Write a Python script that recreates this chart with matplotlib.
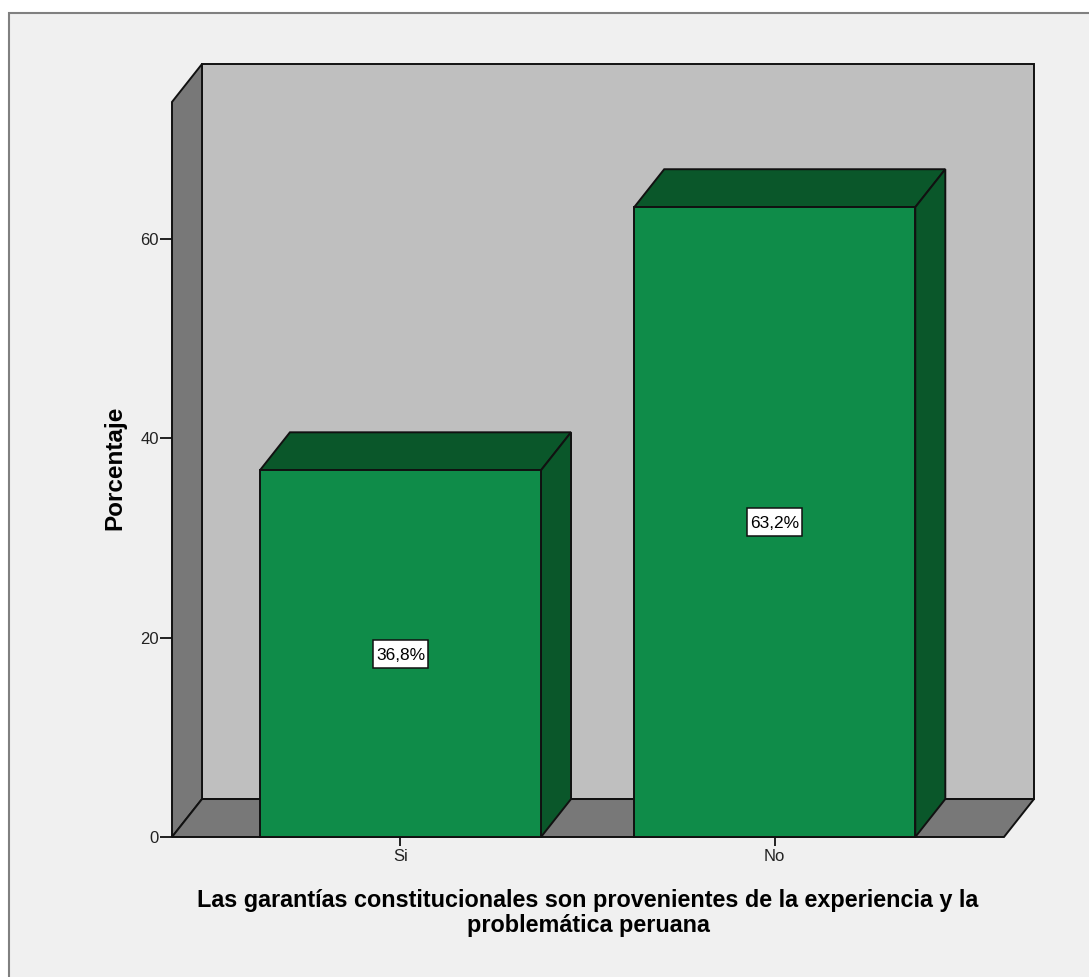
import matplotlib
matplotlib.use('Agg')
import matplotlib.pyplot as plt
from matplotlib.patches import Rectangle

plt.rcParams['font.family'] = ['Liberation Sans', 'DejaVu Sans']

categories = ['Si', 'No']
values = [36.8, 63.2]
value_labels = ['36,8%', '63,2%']
y_ticks = [0, 20, 40, 60]
x_title = 'Las garantías constitucionales son provenientes de la experiencia y la\nproblemática peruana'
y_title = 'Porcentaje'

W, H = 1089, 977

# colores
fondo = '#f0f0f0'
pared = '#bfbfbf'
lado = '#787878'
verde = '#0f8c49'
verde_osc = '#0a572a'
linea = '#111111'

# medidas del "3D" falso, en unidades de los ejes
x_min, x_max = -0.6104, 1.6125
y_max = 73.76
dx, dy = 0.0802, 3.81
ancho = 0.751
lw = 1.4

fig = plt.figure(figsize=(W / 100, H / 100), dpi=100, facecolor='white')
fig.add_artist(Rectangle((9 / W, -0.01), 1.1, 1 - 13 / H + 0.01, transform=fig.transFigure,
                         facecolor=fondo, edgecolor='#808080', linewidth=1.5, zorder=-1))

ax = fig.add_axes([172 / W, 1 - 837 / H, (1034 - 172) / W, (837 - 64) / H])
ax.patch.set_visible(False)
ax.set_xlim(x_min, x_max + dx)
ax.set_ylim(0, y_max + dy)
for s in ax.spines.values():
    s.set_visible(False)

# pared del fondo, pared izquierda y piso
ax.fill([x_min + dx, x_max + dx, x_max + dx, x_min + dx], [dy, dy, y_max + dy, y_max + dy],
        facecolor=pared, edgecolor=linea, linewidth=lw, zorder=1, clip_on=False)
ax.fill([x_min, x_min + dx, x_min + dx, x_min], [0, dy, y_max + dy, y_max],
        facecolor=lado, edgecolor=linea, linewidth=lw, zorder=1, clip_on=False)
ax.fill([x_min, x_max, x_max + dx, x_min + dx], [0, 0, dy, dy],
        facecolor=lado, edgecolor=linea, linewidth=lw, zorder=1, clip_on=False)

# barras con su cara superior y lateral
for i, v in enumerate(values):
    x0, x1 = i - ancho / 2, i + ancho / 2
    ax.fill([x0, x1, x1 + dx, x0 + dx], [v, v, v + dy, v + dy],
            facecolor=verde_osc, edgecolor=linea, linewidth=lw, zorder=2, clip_on=False)
    ax.fill([x1, x1 + dx, x1 + dx, x1], [0, dy, v + dy, v],
            facecolor=verde_osc, edgecolor=linea, linewidth=lw, zorder=2, clip_on=False)
ax.bar(range(len(values)), values, width=ancho, color=verde, edgecolor=linea,
       linewidth=lw, zorder=3, clip_on=False)

# etiquetas de valor en caja blanca
caja_w, caja_h = 0.147, 2.8
for i, v in enumerate(values):
    ax.add_patch(Rectangle((i - caja_w / 2, v / 2 - caja_h / 2), caja_w, caja_h, facecolor='white',
                           edgecolor=linea, linewidth=1.1, zorder=4))
    ax.text(i, v / 2, value_labels[i], ha='center', va='center_baseline', fontsize=12.5,
            color='black', zorder=5)

ax.set_yticks(y_ticks)
ax.set_xticks(range(len(categories)))
ax.set_xticklabels(categories)
ax.tick_params(axis='y', length=8.6, width=1.3, labelsize=12, pad=1, color=linea, labelcolor='#222222')
ax.tick_params(axis='x', length=6.5, width=1.3, labelsize=12, pad=2, color=linea, labelcolor='#222222')

fig.text(588 / W, 1 - 913 / H, x_title, ha='center', va='center', fontsize=16.8, fontweight='bold',
         linespacing=1.1, color='black')
fig.text(115 / W, 1 - 468 / H, y_title, ha='center', va='center', rotation=90, fontsize=17.5,
         fontweight='bold', color='black')

fig.savefig('out.png', dpi=100, facecolor=fig.get_facecolor())
